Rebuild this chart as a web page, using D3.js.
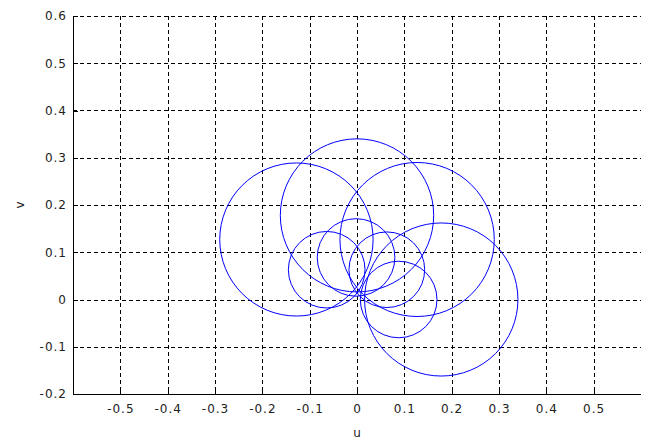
<!DOCTYPE html>
<html>
<head>
<meta charset="utf-8">
<script src="https://cdn.jsdelivr.net/npm/d3@7"></script>
<style>
  body { margin: 0; background: #fff; }
  text { font-family: "DejaVu Sans", sans-serif; font-size: 12px; fill: #222; }
</style>
</head>
<body>
<div id="chart"></div>
<script>
// circle data: centre u, centre v, radius
var circleU = [-0.128, 0.000, 0.127, 0.178, -0.064, -0.002, 0.063, 0.088];
var circleV = [0.127, 0.178, 0.127, 0.000, 0.063, 0.089, 0.063, 0.000];
var circleR = [0.162, 0.162, 0.163, 0.162, 0.081, 0.082, 0.080, 0.081];

var xTicks = [-0.5, -0.4, -0.3, -0.2, -0.1, 0, 0.1, 0.2, 0.3, 0.4, 0.5];
var yTicks = [-0.2, -0.1, 0, 0.1, 0.2, 0.3, 0.4, 0.5, 0.6];

var svgWidth = 649;
var svgHeight = 443;

var margin = { top: 16, right: 8, bottom: 49, left: 73 };
var width = svgWidth - margin.left - margin.right;
var height = svgHeight - margin.top - margin.bottom;

var svg = d3.select("#chart")
  .append("svg")
  .attr("width", svgWidth)
  .attr("height", svgHeight);

var g = svg.append("g")
  .attr("transform", "translate(" + margin.left + "," + margin.top + ")");

var x = d3.scaleLinear().domain([-0.6, 0.6]).range([0, width]);
var y = d3.scaleLinear().domain([-0.2, 0.6]).range([height, 0]);

function px(v) { return Math.round(v) + 0.5; }
// plain hyphen like the original, not the unicode minus
function fmt(d) { return d === 0 ? "0" : d.toFixed(1); }

// grid
var grid = g.append("g").attr("shape-rendering", "crispEdges");
grid.selectAll(".vg")
  .data(xTicks)
  .enter()
  .append("line")
  .attr("x1", d => px(x(d)))
  .attr("x2", d => px(x(d)))
  .attr("y1", 0)
  .attr("y2", height)
  .attr("stroke", "#000")
  .attr("stroke-dasharray", "4,3");
grid.selectAll(".hg")
  .data(yTicks.filter(d => d > -0.2))
  .enter()
  .append("line")
  .attr("x1", 0)
  .attr("x2", width)
  .attr("y1", d => px(y(d)))
  .attr("y2", d => px(y(d)))
  .attr("stroke", "#000")
  .attr("stroke-dasharray", "4,3");

// circles
var circles = circleU.map(function(u, i) {
  return { u: u, v: circleV[i], r: circleR[i] };
});
g.selectAll("ellipse")
  .data(circles)
  .enter()
  .append("ellipse")
  .attr("cx", d => x(d.u))
  .attr("cy", d => y(d.v))
  .attr("rx", d => x(d.r) - x(0))
  .attr("ry", d => y(0) - y(d.r))
  .attr("fill", "none")
  .attr("stroke", "#0000ff")
  .attr("stroke-width", 1);

// axes
var xAxis = g.append("g")
  .attr("transform", "translate(0," + height + ")")
  .call(d3.axisBottom(x).tickValues(xTicks).tickSize(-5).tickPadding(10).tickFormat(fmt));
var yAxis = g.append("g")
  .call(d3.axisLeft(y).tickValues(yTicks).tickSize(-5).tickPadding(6).tickFormat(fmt));

[xAxis, yAxis].forEach(function(a) {
  a.select(".domain").attr("stroke", "#000").attr("shape-rendering", "crispEdges");
  a.selectAll(".tick line").attr("stroke", "#000").attr("shape-rendering", "crispEdges");
  a.selectAll("text").attr("font-family", "DejaVu Sans, sans-serif")
    .attr("font-size", 12).attr("letter-spacing", 1).attr("fill", "#222");
});
// matlab style axes: no end caps on the domain
xAxis.select(".domain").attr("d", "M0.5,0.5H" + width);
yAxis.select(".domain").attr("d", "M0.5,0.5V" + (height + 0.5));

// labels
svg.append("text")
  .attr("x", margin.left + x(0))
  .attr("y", 437)
  .attr("text-anchor", "middle")
  .text("u");
svg.append("text")
  .attr("transform", "translate(24," + (margin.top + y(0.2)) + ") rotate(-90)")
  .attr("text-anchor", "middle")
  .text("v");
</script>
</body>
</html>
